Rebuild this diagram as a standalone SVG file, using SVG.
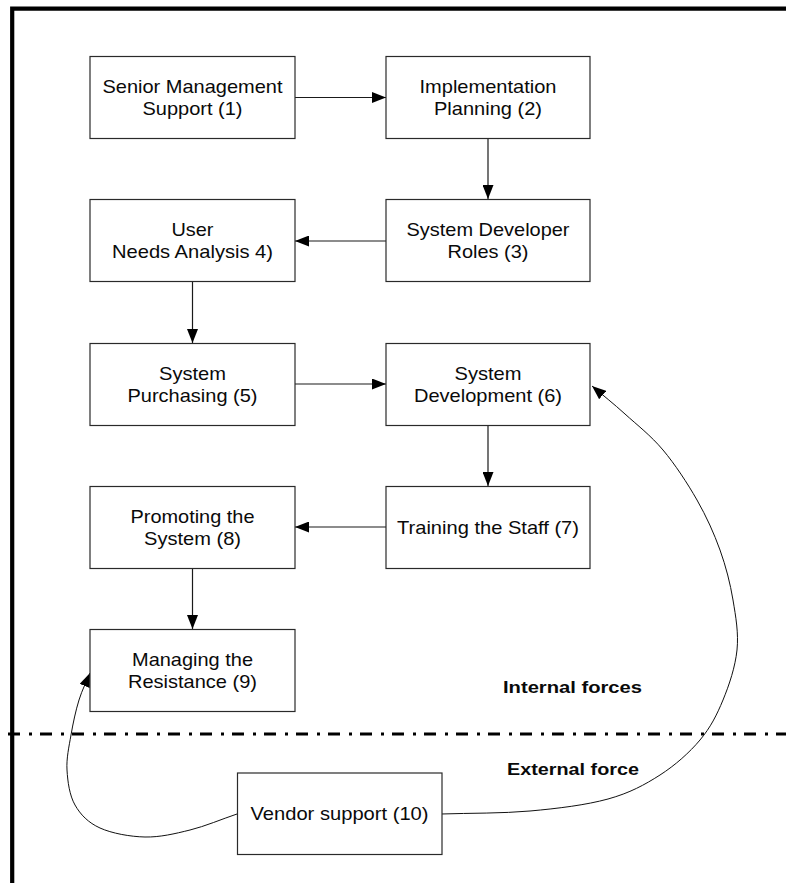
<svg xmlns="http://www.w3.org/2000/svg" width="786" height="883" viewBox="0 0 786 883">
  <style>
    .box { fill: #ffffff; stroke: #2a2a2a; stroke-width: 1.2; }
    .lbl { font-family: "Liberation Sans", Arial, sans-serif; font-size: 19px; fill: #0a0a0a; text-anchor: middle; }
    .zone { font-family: "Liberation Sans", Arial, sans-serif; font-size: 16.5px; font-weight: bold; fill: #0a0a0a; }
    .link { fill: none; stroke: #1a1a1a; stroke-width: 1.2; marker-end: url(#arrow); }
    .curve { fill: none; stroke: #111111; stroke-width: 1; marker-end: url(#arrow); }
  </style>
  <defs>
    <marker id="arrow" markerUnits="userSpaceOnUse" markerWidth="14" markerHeight="11" refX="14" refY="5.5" orient="auto">
      <path d="M0,0 L14,5.5 L0,11 z" fill="#000000"/>
    </marker>
  </defs>

  <rect width="786" height="883" fill="#ffffff"/>

  <!-- outer frame and zone divider -->
  <path d="M12.2,883 V8.7 H786" fill="none" stroke="#000000" stroke-width="4.2" stroke-linejoin="miter"/>
  <line x1="8" y1="734" x2="786" y2="734" stroke="#000000" stroke-width="3" stroke-dasharray="12 9 3 8"/>

  <text class="zone" x="503" y="693" textLength="139" lengthAdjust="spacingAndGlyphs">Internal forces</text>
  <text class="zone" x="507" y="775" textLength="132" lengthAdjust="spacingAndGlyphs">External force</text>

  <!-- connectors -->
  <g id="connectors">
    <line class="link" x1="295" y1="97.5" x2="386" y2="97.5"/>
    <line class="link" x1="488" y1="138" x2="488" y2="199"/>
    <line class="link" x1="386" y1="241" x2="295" y2="241"/>
    <line class="link" x1="192.5" y1="282" x2="192.5" y2="343"/>
    <line class="link" x1="295" y1="384" x2="386" y2="384"/>
    <line class="link" x1="488" y1="425" x2="488" y2="486"/>
    <line class="link" x1="386" y1="527" x2="295" y2="527"/>
    <line class="link" x1="192.5" y1="568" x2="192.5" y2="629"/>
    <!-- vendor support feeding back into resistance management -->
    <path class="curve" d="M237,814 C221.3,819.3 205.3,826.2 190,830 C174.7,833.8 160,837.3 145,837 C130,836.7 111.7,833.3 100,828 C88.3,822.7 80.5,814.7 75,805 C69.5,795.3 67.7,781.7 67,770 C66.3,758.3 69,746.7 71,735 C73,723.3 75.8,710.3 79,700 C82.2,689.7 86.3,682 90,673"/>
    <!-- vendor support feeding into system development -->
    <path class="curve" d="M441,814 C470.7,813 502.2,813.5 530,811 C557.8,808.5 586.3,805 608,799 C629.7,793 644.7,784.8 660,775 C675.3,765.2 689.5,752.5 700,740 C710.5,727.5 716.8,715 723,700 C729.2,685 735.3,666.7 737,650 C738.7,633.3 735.8,616.7 733,600 C730.2,583.3 726,566.7 720,550 C714,533.3 706.5,516.7 697,500 C687.5,483.3 675,464.3 663,450 C651,435.7 636.8,424.7 625,414 C613.2,403.3 603,395.3 592,386"/>
  </g>

  <!-- nodes -->
  <g id="n1">
    <rect class="box" x="90" y="56.5" width="205" height="82"/>
    <text class="lbl" x="192.5" y="93" textLength="180" lengthAdjust="spacingAndGlyphs">Senior Management</text>
    <text class="lbl" x="192.5" y="114.5" textLength="100" lengthAdjust="spacingAndGlyphs">Support (1)</text>
  </g>
  <g id="n2">
    <rect class="box" x="386" y="56.5" width="204" height="82"/>
    <text class="lbl" x="488" y="93" textLength="137" lengthAdjust="spacingAndGlyphs">Implementation</text>
    <text class="lbl" x="488" y="114.5" textLength="108" lengthAdjust="spacingAndGlyphs">Planning (2)</text>
  </g>
  <g id="n3">
    <rect class="box" x="386" y="199.5" width="204" height="82"/>
    <text class="lbl" x="488" y="236" textLength="163" lengthAdjust="spacingAndGlyphs">System Developer</text>
    <text class="lbl" x="488" y="257.5" textLength="81" lengthAdjust="spacingAndGlyphs">Roles (3)</text>
  </g>
  <g id="n4">
    <rect class="box" x="90" y="199.5" width="205" height="82"/>
    <text class="lbl" x="192.5" y="236" textLength="42" lengthAdjust="spacingAndGlyphs">User</text>
    <text class="lbl" x="192.5" y="257.5" textLength="161" lengthAdjust="spacingAndGlyphs">Needs Analysis 4)</text>
  </g>
  <g id="n5">
    <rect class="box" x="90" y="343.5" width="205" height="82"/>
    <text class="lbl" x="192.5" y="380" textLength="67" lengthAdjust="spacingAndGlyphs">System</text>
    <text class="lbl" x="192.5" y="401.5" textLength="130" lengthAdjust="spacingAndGlyphs">Purchasing (5)</text>
  </g>
  <g id="n6">
    <rect class="box" x="386" y="343.5" width="204" height="82"/>
    <text class="lbl" x="488" y="380" textLength="67" lengthAdjust="spacingAndGlyphs">System</text>
    <text class="lbl" x="488" y="401.5" textLength="148" lengthAdjust="spacingAndGlyphs">Development (6)</text>
  </g>
  <g id="n7">
    <rect class="box" x="386" y="486.5" width="204" height="82"/>
    <text class="lbl" x="488" y="533.5" textLength="182" lengthAdjust="spacingAndGlyphs">Training the Staff (7)</text>
  </g>
  <g id="n8">
    <rect class="box" x="90" y="486.5" width="205" height="82"/>
    <text class="lbl" x="192.5" y="523" textLength="124" lengthAdjust="spacingAndGlyphs">Promoting the</text>
    <text class="lbl" x="192.5" y="544.5" textLength="97" lengthAdjust="spacingAndGlyphs">System (8)</text>
  </g>
  <g id="n9">
    <rect class="box" x="90" y="629.5" width="205" height="82"/>
    <text class="lbl" x="192.5" y="666" textLength="121" lengthAdjust="spacingAndGlyphs">Managing the</text>
    <text class="lbl" x="192.5" y="687.5" textLength="129" lengthAdjust="spacingAndGlyphs">Resistance (9)</text>
  </g>
  <g id="n10">
    <rect class="box" x="237.5" y="773" width="204.5" height="81.5"/>
    <text class="lbl" x="339.5" y="819.5" textLength="178" lengthAdjust="spacingAndGlyphs">Vendor support (10)</text>
  </g>
</svg>
